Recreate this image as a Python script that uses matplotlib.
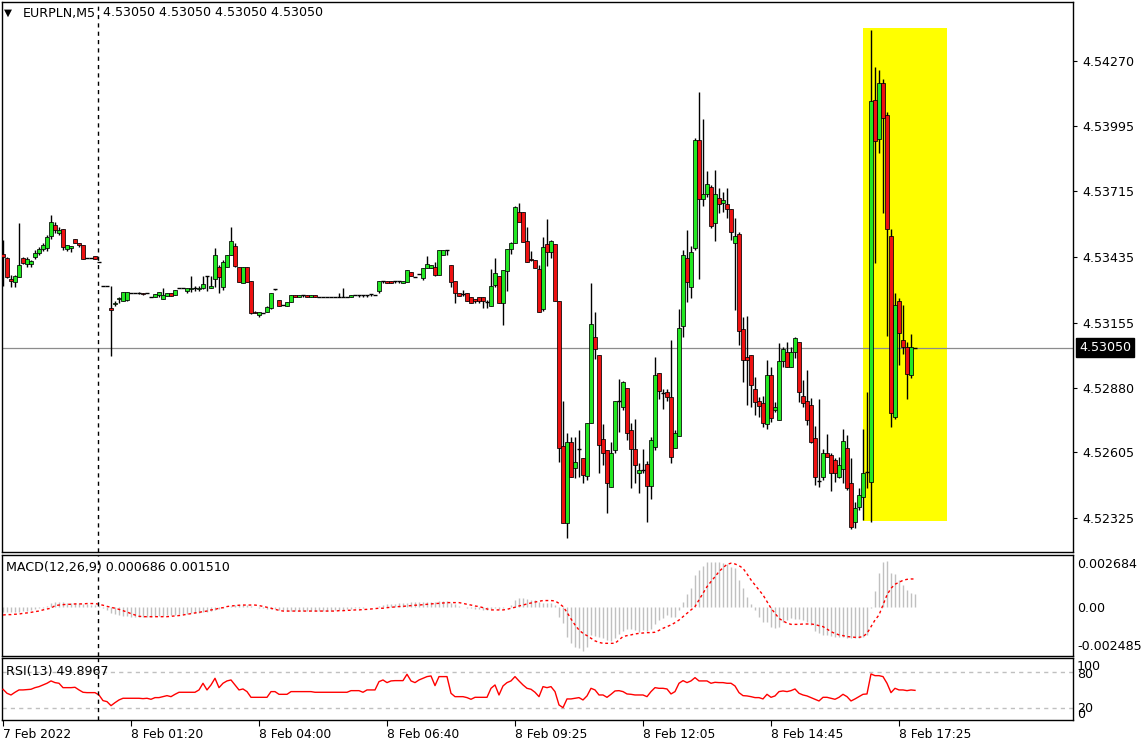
import numpy as np
import matplotlib
matplotlib.use("Agg")
import matplotlib.pyplot as plt
from matplotlib.patches import Rectangle
from matplotlib.transforms import blended_transform_factory

plt.rcParams['font.family'] = ['DejaVu Sans']

# ---------------- data ----------------
symbol = "EURPLN,M5"
header_ohlc = "4.53050 4.53050 4.53050 4.53050"

opens = [
    4.53449, 4.53432, 4.53342, 4.53329, 4.53351, 4.53432, 4.53406, 4.53406, 4.53436, 4.53453,
    4.53470, 4.53474, 4.53525, 4.53572, 4.53538, 4.53555, 4.53470, 4.53474, 4.53512, 4.53495,
    4.53487, 4.53432, 4.53432, 4.53440, 4.53415, 4.53312, 4.53312, 4.53219, 4.53236, 4.53257,
    4.53249, 4.53253, 4.53283, 4.53283, 4.53283, 4.53283, 4.53283, 4.53266, 4.53266, 4.53274,
    4.53257, 4.53270, 4.53283, 4.53274, 4.53304, 4.53304, 4.53291, 4.53300, 4.53304, 4.53300,
    4.53304, 4.53355, 4.53304, 4.53342, 4.53393, 4.53308, 4.53393, 4.53444, 4.53483, 4.53393,
    4.53325, 4.53393, 4.53334, 4.53202, 4.53189, 4.53197, 4.53202, 4.53219, 4.53300, 4.53253,
    4.53232, 4.53227, 4.53244, 4.53274, 4.53266, 4.53274, 4.53274, 4.53266, 4.53274, 4.53266,
    4.53266, 4.53266, 4.53266, 4.53266, 4.53266, 4.53266, 4.53266, 4.53266, 4.53274, 4.53274,
    4.53274, 4.53274, 4.53278, 4.53274, 4.53291, 4.53334, 4.53334, 4.53334, 4.53334, 4.53334,
    4.53325, 4.53329, 4.53372, 4.53351, 4.53363, 4.53346, 4.53389, 4.53389, 4.53393, 4.53359,
    4.53444, 4.53466, 4.53402, 4.53334, 4.53283, 4.53278, 4.53283, 4.53266, 4.53257, 4.53266,
    4.53266, 4.53244, 4.53227, 4.53317, 4.53355, 4.53240, 4.53376, 4.53470, 4.53495, 4.53627,
    4.53627, 4.53504, 4.53427, 4.53423, 4.53385, 4.53214, 4.53491, 4.53457, 4.53491, 4.53249,
    4.52632, 4.52304, 4.52649, 4.52538, 4.52619, 4.52580, 4.52504, 4.52730, 4.53095, 4.53019,
    4.52662, 4.52615, 4.52457, 4.52615, 4.52823, 4.52798, 4.52879, 4.52700, 4.52619, 4.52517,
    4.52529, 4.52555, 4.52461, 4.52627, 4.52942, 4.52857, 4.52862, 4.52840, 4.52623, 4.52674,
    4.53142, 4.53432, 4.53308, 4.53474, 4.53934, 4.53683, 4.53704, 4.53734, 4.53581, 4.53687,
    4.53666, 4.53661, 4.53640, 4.53495, 4.53534, 4.53129, 4.53010, 4.53019, 4.52874, 4.52823,
    4.52815, 4.52725, 4.52934, 4.52785, 4.52742, 4.52993, 4.53032, 4.52968, 4.53032, 4.53074,
    4.52845, 4.52823, 4.52806, 4.52666, 4.52483, 4.52500, 4.52602, 4.52593, 4.52572, 4.52500,
    4.52534, 4.52623, 4.52474, 4.52308, 4.52372, 4.52415, 4.52521, 4.52478, 4.54104, 4.53938,
    4.54176, 4.54040, 4.53525, 4.52755, 4.53249, 4.53083, 4.53053, 4.52934, 4.53050,
]

highs = [
    4.53508, 4.53436, 4.53359, 4.53359, 4.53581, 4.53436, 4.53436, 4.53423, 4.53466, 4.53478,
    4.53495, 4.53529, 4.53615, 4.53585, 4.53563, 4.53555, 4.53487, 4.53483, 4.53512, 4.53495,
    4.53487, 4.53432, 4.53432, 4.53440, 4.53415, 4.53312, 4.53312, 4.53312, 4.53249, 4.53266,
    4.53287, 4.53287, 4.53283, 4.53283, 4.53287, 4.53283, 4.53283, 4.53266, 4.53278, 4.53287,
    4.53304, 4.53283, 4.53283, 4.53295, 4.53304, 4.53304, 4.53304, 4.53355, 4.53312, 4.53312,
    4.53355, 4.53355, 4.53355, 4.53474, 4.53402, 4.53423, 4.53444, 4.53563, 4.53495, 4.53393,
    4.53393, 4.53393, 4.53334, 4.53206, 4.53202, 4.53197, 4.53227, 4.53283, 4.53300, 4.53253,
    4.53232, 4.53244, 4.53274, 4.53274, 4.53274, 4.53274, 4.53274, 4.53274, 4.53274, 4.53266,
    4.53266, 4.53266, 4.53266, 4.53266, 4.53283, 4.53304, 4.53266, 4.53274, 4.53274, 4.53274,
    4.53274, 4.53274, 4.53278, 4.53274, 4.53334, 4.53334, 4.53334, 4.53334, 4.53334, 4.53334,
    4.53334, 4.53380, 4.53372, 4.53351, 4.53363, 4.53389, 4.53440, 4.53402, 4.53415, 4.53466,
    4.53466, 4.53466, 4.53402, 4.53334, 4.53283, 4.53295, 4.53283, 4.53266, 4.53257, 4.53266,
    4.53266, 4.53253, 4.53385, 4.53432, 4.53355, 4.53380, 4.53470, 4.53500, 4.53653, 4.53666,
    4.53627, 4.53563, 4.53461, 4.53423, 4.53402, 4.53521, 4.53598, 4.53508, 4.53491, 4.53249,
    4.52823, 4.52687, 4.52670, 4.52670, 4.52700, 4.52580, 4.52730, 4.53325, 4.53202, 4.53019,
    4.52725, 4.52615, 4.52649, 4.52823, 4.52917, 4.52908, 4.52879, 4.52730, 4.52747, 4.52559,
    4.52619, 4.52568, 4.52670, 4.53010, 4.52942, 4.52874, 4.52874, 4.53083, 4.52700, 4.53214,
    4.53466, 4.53551, 4.53483, 4.53942, 4.54138, 4.54023, 4.53802, 4.53742, 4.53806, 4.53729,
    4.53712, 4.53729, 4.53640, 4.53602, 4.53542, 4.53180, 4.53185, 4.53019, 4.52925, 4.52840,
    4.52845, 4.52998, 4.52968, 4.52819, 4.53070, 4.53053, 4.53074, 4.53053, 4.53095, 4.53074,
    4.52913, 4.52955, 4.52836, 4.52717, 4.52832, 4.52619, 4.52683, 4.52602, 4.52580, 4.52585,
    4.52704, 4.52678, 4.52580, 4.52393, 4.52453, 4.52704, 4.52862, 4.54402, 4.54244, 4.54232,
    4.54193, 4.54053, 4.53555, 4.53283, 4.53261, 4.53232, 4.53074, 4.53108, 4.53050,
]

lows = [
    4.53312, 4.53346, 4.53308, 4.53308, 4.53351, 4.53406, 4.53393, 4.53393, 4.53427, 4.53444,
    4.53461, 4.53461, 4.53512, 4.53538, 4.53529, 4.53466, 4.53461, 4.53457, 4.53495, 4.53478,
    4.53427, 4.53432, 4.53432, 4.53427, 4.53415, 4.53312, 4.53312, 4.53015, 4.53227, 4.53240,
    4.53249, 4.53249, 4.53283, 4.53283, 4.53278, 4.53274, 4.53283, 4.53266, 4.53266, 4.53266,
    4.53257, 4.53270, 4.53270, 4.53274, 4.53304, 4.53304, 4.53283, 4.53287, 4.53291, 4.53291,
    4.53300, 4.53291, 4.53304, 4.53308, 4.53283, 4.53295, 4.53393, 4.53444, 4.53393, 4.53329,
    4.53325, 4.53329, 4.53193, 4.53197, 4.53180, 4.53197, 4.53202, 4.53214, 4.53295, 4.53227,
    4.53232, 4.53227, 4.53244, 4.53266, 4.53266, 4.53266, 4.53266, 4.53266, 4.53266, 4.53266,
    4.53266, 4.53266, 4.53266, 4.53266, 4.53266, 4.53266, 4.53266, 4.53266, 4.53274, 4.53266,
    4.53266, 4.53266, 4.53270, 4.53274, 4.53283, 4.53325, 4.53325, 4.53325, 4.53325, 4.53325,
    4.53325, 4.53329, 4.53355, 4.53351, 4.53363, 4.53338, 4.53389, 4.53389, 4.53355, 4.53359,
    4.53444, 4.53444, 4.53308, 4.53240, 4.53270, 4.53270, 4.53249, 4.53240, 4.53240, 4.53240,
    4.53219, 4.53219, 4.53227, 4.53308, 4.53240, 4.53146, 4.53291, 4.53449, 4.53495, 4.53585,
    4.53500, 4.53415, 4.53419, 4.53389, 4.53202, 4.53206, 4.53397, 4.53432, 4.53249, 4.52563,
    4.52304, 4.52240, 4.52500, 4.52495, 4.52500, 4.52474, 4.52487, 4.52730, 4.53002, 4.52517,
    4.52551, 4.52346, 4.52457, 4.52602, 4.52691, 4.52785, 4.52657, 4.52453, 4.52474, 4.52432,
    4.52517, 4.52308, 4.52406, 4.52615, 4.52832, 4.52789, 4.52823, 4.52559, 4.52623, 4.52674,
    4.53095, 4.53244, 4.53261, 4.53466, 4.53342, 4.53653, 4.53691, 4.53559, 4.53504, 4.53623,
    4.53627, 4.53602, 4.53508, 4.53210, 4.53061, 4.52904, 4.52806, 4.52798, 4.52764, 4.52755,
    4.52713, 4.52704, 4.52734, 4.52776, 4.52742, 4.52968, 4.52968, 4.52968, 4.53006, 4.52819,
    4.52798, 4.52721, 4.52644, 4.52466, 4.52457, 4.52487, 4.52585, 4.52440, 4.52478, 4.52495,
    4.52474, 4.52444, 4.52278, 4.52283, 4.52359, 4.52317, 4.52453, 4.52308, 4.53410, 4.53878,
    4.53623, 4.53100, 4.52713, 4.52747, 4.52976, 4.53023, 4.52832, 4.52921, 4.53050,
]

closes = [
    4.53436, 4.53351, 4.53334, 4.53355, 4.53402, 4.53410, 4.53427, 4.53419, 4.53453, 4.53470,
    4.53487, 4.53521, 4.53585, 4.53551, 4.53551, 4.53478, 4.53487, 4.53483, 4.53495, 4.53487,
    4.53427, 4.53432, 4.53432, 4.53427, 4.53415, 4.53312, 4.53312, 4.53210, 4.53240, 4.53261,
    4.53287, 4.53287, 4.53283, 4.53283, 4.53283, 4.53278, 4.53283, 4.53266, 4.53278, 4.53287,
    4.53274, 4.53283, 4.53270, 4.53295, 4.53304, 4.53304, 4.53304, 4.53304, 4.53304, 4.53304,
    4.53321, 4.53355, 4.53312, 4.53444, 4.53351, 4.53415, 4.53444, 4.53504, 4.53397, 4.53329,
    4.53393, 4.53329, 4.53197, 4.53197, 4.53202, 4.53197, 4.53223, 4.53283, 4.53300, 4.53227,
    4.53232, 4.53244, 4.53274, 4.53266, 4.53274, 4.53274, 4.53266, 4.53274, 4.53266, 4.53266,
    4.53266, 4.53266, 4.53266, 4.53266, 4.53266, 4.53266, 4.53266, 4.53274, 4.53274, 4.53274,
    4.53274, 4.53274, 4.53278, 4.53274, 4.53334, 4.53334, 4.53325, 4.53325, 4.53334, 4.53334,
    4.53334, 4.53380, 4.53355, 4.53351, 4.53363, 4.53389, 4.53406, 4.53402, 4.53359, 4.53466,
    4.53466, 4.53466, 4.53329, 4.53283, 4.53270, 4.53278, 4.53249, 4.53240, 4.53249, 4.53249,
    4.53249, 4.53244, 4.53312, 4.53368, 4.53240, 4.53380, 4.53470, 4.53495, 4.53649, 4.53585,
    4.53500, 4.53415, 4.53423, 4.53389, 4.53202, 4.53478, 4.53457, 4.53504, 4.53249, 4.52623,
    4.52304, 4.52649, 4.52500, 4.52563, 4.52619, 4.52508, 4.52730, 4.53151, 4.53044, 4.52636,
    4.52602, 4.52474, 4.52602, 4.52823, 4.52823, 4.52904, 4.52687, 4.52619, 4.52551, 4.52529,
    4.52529, 4.52461, 4.52657, 4.52934, 4.52866, 4.52857, 4.52840, 4.52585, 4.52687, 4.53134,
    4.53444, 4.53329, 4.53457, 4.53934, 4.53683, 4.53704, 4.53746, 4.53568, 4.53704, 4.53661,
    4.53678, 4.53640, 4.53542, 4.53525, 4.53121, 4.52998, 4.52998, 4.52891, 4.52819, 4.52802,
    4.52730, 4.52934, 4.52751, 4.52798, 4.52993, 4.53044, 4.52968, 4.53032, 4.53091, 4.52862,
    4.52815, 4.52742, 4.52649, 4.52500, 4.52483, 4.52602, 4.52585, 4.52517, 4.52517, 4.52551,
    4.52653, 4.52453, 4.52287, 4.52368, 4.52423, 4.52517, 4.52521, 4.54100, 4.53930, 4.54176,
    4.54027, 4.53555, 4.52772, 4.53232, 4.53112, 4.53053, 4.52938, 4.53053, 4.53050,
]

macd_hist = [
    -0.00023, -0.00025, -0.00027, -0.00027, -0.00023, -0.00020, -0.00018, -0.00014, -0.00011, -0.00005, -0.00002,
    0.00009, 0.00021, 0.00027, 0.00028, 0.00027, 0.00025, 0.00023, 0.00023, 0.00021, 0.00020, 0.00016, 0.00012, 0.00011, 0.00007,
    -0.00005, -0.00016, -0.00028, -0.00037, -0.00043, -0.00046, -0.00048, -0.00050, -0.00050, -0.00050,
    -0.00050, -0.00050, -0.00050, -0.00048, -0.00046, -0.00044, -0.00043, -0.00041, -0.00039, -0.00037,
    -0.00036, -0.00034, -0.00032, -0.00030, -0.00028, -0.00027, -0.00023, -0.00021, -0.00014, -0.00011, -0.00005, 0.0,
    0.00009, 0.00012, 0.00012, 0.00012, 0.00012, 0.00007, 0.00002, -0.00002, -0.00005, -0.00009,
    -0.00011, -0.00011, -0.00014, -0.00016, -0.00018, -0.00018, -0.00018, -0.00018, -0.00018, -0.00020,
    -0.00020, -0.00020, -0.00020, -0.00020, -0.00018, -0.00018, -0.00016, -0.00014, -0.00012, -0.00011,
    -0.00009, -0.00005, -0.00004, -0.00002, 0.0, 0.00002, 0.00004,
    0.00009, 0.00012, 0.00016, 0.00018, 0.00020, 0.00021, 0.00021, 0.00025, 0.00027, 0.00027,
    0.00027, 0.00028, 0.00030, 0.00030, 0.00030, 0.00034, 0.00034, 0.00034, 0.00025, 0.00016,
    0.00009, 0.00004, -0.00002, -0.00005, -0.00009, -0.00011, -0.00014, -0.00016, -0.00009, -0.00005,
    -0.00009, -0.00005, 0.0, 0.00012,
    0.00039, 0.00052, 0.00052, 0.00044, 0.00039, 0.00039, 0.00030, 0.00021, 0.00021, 0.00021, 0.00012,
    -0.00050, -0.00085, -0.00156, -0.00192, -0.00210, -0.00215, -0.00231, -0.00210,
    -0.00147, -0.00153, -0.00156, -0.00162, -0.00174, -0.00179, -0.00165, -0.00144, -0.00126, -0.00116, -0.00116,
    -0.00121, -0.00133, -0.00121, -0.00126, -0.00116, -0.00091, -0.00068, -0.00055, -0.00041, -0.00050, -0.00050,
    -0.00014, 0.00030, 0.00069, 0.00105, 0.00172, 0.00199, 0.00220, 0.00243, 0.00243, 0.00243,
    0.00243, 0.00235, 0.00229, 0.00217, 0.00211, 0.00146, 0.00101, 0.00057, 0.00016,
    -0.00014, -0.00050, -0.00076, -0.00076, -0.00103, -0.00112, -0.00103, -0.00076, -0.00068, -0.00059,
    -0.00062, -0.00062, -0.00068, -0.00076, -0.00094, -0.00126, -0.00139, -0.00147, -0.00147, -0.00153,
    -0.00156, -0.00156, -0.00156, -0.00165, -0.00165, -0.00165, -0.00162, -0.00156, -0.00147,
    -0.00005, 0.00087, 0.00181, 0.00243, 0.00247, 0.00181, 0.00176, 0.00146, 0.00119, 0.00092, 0.00075, 0.000686,
]

macd_signal = [
    -0.00041, -0.00039, -0.00039, -0.00037, -0.00036, -0.00032, -0.00030, -0.00027, -0.00023, -0.00020, -0.00014, -0.00009, -0.00005,
    0.00009, 0.00012, 0.00014, 0.00016, 0.00016, 0.00018, 0.00018, 0.00018, 0.00020, 0.00020, 0.00020,
    0.00016, 0.00011, 0.00005, 0.0, -0.00005, -0.00011, -0.00018, -0.00025, -0.00034, -0.00041, -0.00048,
    -0.00050, -0.00050, -0.00050, -0.00050, -0.00050, -0.00050, -0.00050,
    -0.00048, -0.00046, -0.00044, -0.00041, -0.00037, -0.00034, -0.00030, -0.00027, -0.00023, -0.00020, -0.00014,
    -0.00011, -0.00005, -0.00002, 0.00004, 0.00007, 0.00009, 0.00011, 0.00012, 0.00012, 0.00012, 0.00012,
    0.00009, 0.00005, 0.0, -0.00005, -0.00011, -0.00016, -0.00020,
    -0.00020, -0.00020, -0.00020, -0.00020, -0.00020, -0.00020, -0.00020, -0.00020, -0.00020, -0.00020, -0.00020, -0.00020, -0.00020,
    -0.00018, -0.00018, -0.00016, -0.00016, -0.00014, -0.00014, -0.00012, -0.00011, -0.00009, -0.00007,
    -0.00005, -0.00005, -0.00002, 0.0, 0.00002, 0.00004, 0.00005, 0.00007, 0.00009, 0.00011,
    0.00012, 0.00014, 0.00016, 0.00018, 0.00020, 0.00021, 0.00023, 0.00025, 0.00025, 0.00025, 0.00025,
    0.00021, 0.00016, 0.00012, 0.00007, 0.00004, -0.00002, -0.00009, -0.00014, -0.00014, -0.00014, -0.00014, -0.00011,
    -0.00005, 0.0, 0.00007, 0.00012, 0.00018, 0.00023, 0.00028, 0.00032, 0.00036, 0.00036, 0.00036, 0.00034,
    0.00021, 0.00004, -0.00027, -0.00062, -0.00094, -0.00121, -0.00139, -0.00151, -0.00165, -0.00179, -0.00187, -0.00192, -0.00192, -0.00192, -0.00192,
    -0.00174, -0.00156, -0.00151, -0.00147, -0.00142, -0.00139, -0.00137, -0.00135, -0.00135, -0.00133, -0.00123, -0.00112, -0.00103, -0.00094, -0.00082,
    -0.00068, -0.00050, -0.00032, -0.00014, 0.00004, 0.00039, 0.00075, 0.00110, 0.00137, 0.00163, 0.00190, 0.00211, 0.00229, 0.00235, 0.00231,
    0.00222, 0.00208, 0.00178, 0.00146, 0.00119, 0.00092, 0.00066, 0.00030, -0.00005, -0.00032, -0.00059, -0.00073, -0.00084, -0.00091, -0.00091,
    -0.00091, -0.00089, -0.00089, -0.00089, -0.00092, -0.00098, -0.00103, -0.00116, -0.00130, -0.00139, -0.00147, -0.00151, -0.00156, -0.00158, -0.00160,
    -0.00160, -0.00156, -0.00139, -0.00103, -0.00068, -0.00041, 0.00012, 0.00066, 0.00101, 0.00123, 0.00133, 0.00144, 0.00149, 0.00151, 0.001510,
]

rsi = [
    51.7, 45.0, 42.2, 46.7, 50.6, 50.6, 51.1, 51.7, 54.4, 56.1,
    58.9, 61.7, 65.6, 62.8, 61.7, 54.4, 54.4, 54.4, 55.0, 50.6,
    46.7, 46.1, 46.1, 46.1, 42.2,
    32.8, 31.1, 24.4, 29.4, 33.9, 36.7, 36.7, 36.7, 36.7, 36.7,
    36.1, 36.7, 35.0, 37.8, 37.8, 39.4, 41.1, 39.4, 43.3, 46.7,
    46.7, 46.7, 46.7, 46.7, 50.6,
    61.7, 50.6, 58.9, 70.0, 54.4, 61.7, 65.6, 67.2, 58.9, 50.6,
    52.2, 47.8, 38.3, 38.3, 38.3, 38.3, 38.3, 47.8, 47.8, 43.3,
    43.3, 43.3, 47.8, 47.8, 47.8, 47.8, 47.8, 47.8, 46.7,
    46.7, 46.7, 46.7, 46.7, 46.7, 46.7, 46.7, 46.7, 49.4, 49.4, 49.4, 46.7, 50.6, 50.6, 50.6,
    64.4, 67.2, 62.8, 65.6, 66.1, 66.1, 66.1, 76.7, 65.6, 62.8,
    67.2, 70.0, 72.8, 73.9, 57.8, 72.8, 72.8, 72.8, 45.0, 39.4,
    39.4, 39.4, 37.8, 35.0, 38.3, 38.3, 38.3, 38.3, 53.3, 58.9,
    42.2, 57.2, 62.8, 65.6,
    72.8, 65.6, 58.9, 53.3, 51.7, 46.7, 39.4, 56.1, 54.4, 56.1,
    47.8, 25.6, 21.1, 35.6, 35.6, 36.7, 37.8, 33.9, 40.6, 53.3,
    50.6, 42.2, 42.2, 38.3, 43.3, 48.9, 49.4, 47.8, 43.9, 43.3,
    42.2, 42.2, 42.2, 39.4, 47.8, 54.4, 53.3, 53.3, 52.2, 43.9,
    47.8, 61.7, 66.1, 62.8, 65.6, 71.1, 65.6, 65.6, 65.6, 61.7,
    63.3, 62.8, 62.8, 61.7, 61.7, 57.2, 46.1, 41.1, 40.6, 39.4,
    37.8, 37.8, 35.6, 43.3, 38.3, 40.6, 47.8, 48.9, 47.8, 49.4,
    52.2, 45.0, 42.2, 40.6, 37.8, 35.0, 32.2, 38.3, 38.3, 36.7,
    35.0, 38.3, 43.3, 39.4, 32.2, 35.6, 39.4, 43.3, 43.9, 77.2,
    74.4, 74.4, 72.8, 61.7, 46.1, 53.3, 50.6, 50.6, 49.4, 50.6,
    49.8967,
]

time_tick_bars = [0, 32, 64, 96, 128, 160, 192, 224]
time_tick_labels = ["7 Feb 2022", "8 Feb 01:20", "8 Feb 04:00", "8 Feb 06:40",
                    "8 Feb 09:25", "8 Feb 12:05", "8 Feb 14:45", "8 Feb 17:25"]
price_ticks = [4.54270, 4.53995, 4.53715, 4.53435, 4.53155, 4.52880, 4.52605, 4.52325]
bid_price = 4.53050
highlight_bars = (215.0, 236.0)
highlight_prices = (4.52312, 4.54411)
separator_bar = 23.75
rsi_levels = [80, 20]
macd_scale_labels = ["0.002684", "0.00", "-0.002485"]
rsi_scale_labels = ["100", "80", "20", "0"]
macd_title = "MACD(12,26,9) 0.000686 0.001510"
rsi_title = "RSI(13) 49.8967"

# ---------------- layout ----------------
W, H = 1145, 748
fig = plt.figure(figsize=(W / 100, H / 100), dpi=100)
fig.patch.set_facecolor("white")

FS = 9.1


def rect(x0, y0, x1, y1):
    return [x0 / W, 1 - y1 / H, (x1 - x0) / W, (y1 - y0) / H]


ax = fig.add_axes(rect(2, 1.5, 1073, 552))
axm = fig.add_axes(rect(2, 555, 1073, 656))
axr = fig.add_axes(rect(2, 658, 1073, 720))

XLIM = (-0.25, 267.5)
for a in (ax, axm, axr):
    a.set_xlim(*XLIM)
    a.set_facecolor("white")
    for s in a.spines.values():
        s.set_color("black")
        s.set_linewidth(1.0)
    a.tick_params(axis="x", bottom=False, labelbottom=False)
    a.tick_params(axis="y", left=False, labelleft=False, right=False, labelright=False)

ax.set_ylim(4.52180, 4.54524)
axm.set_ylim(-0.002596, 0.002788)
axr.set_ylim(0.5, 103.8)

GREEN = "#22e822"
RED = "#ee1111"

o = np.array(opens)
h = np.array(highs)
l = np.array(lows)
c = np.array(closes)
x = np.arange(len(o))

# highlight rectangle
ax.add_patch(Rectangle((highlight_bars[0], highlight_prices[0]),
                       highlight_bars[1] - highlight_bars[0],
                       highlight_prices[1] - highlight_prices[0],
                       facecolor="#ffff00", edgecolor="none", zorder=1))

# bid line
ax.axhline(bid_price, color="#8c8c8c", lw=0.9, zorder=2)

# candles
ax.vlines(x, l, h, color="black", lw=1.0, zorder=3)
up = c > o
dn = c < o
fl = c == o
ax.bar(x[up], (c - o)[up], bottom=o[up], width=0.8, color=GREEN,
       edgecolor="black", linewidth=0.55, zorder=4)
ax.bar(x[dn], (o - c)[dn], bottom=c[dn], width=0.8, color=RED,
       edgecolor="black", linewidth=0.55, zorder=4)
ax.hlines(o[fl], x[fl] - 0.45, x[fl] + 0.45, color="black", lw=1.0, zorder=4)

# price axis on right
ax.yaxis.tick_right()
ax.set_yticks(price_ticks)
ax.set_yticklabels([f"{p:.5f}" for p in price_ticks])
ax.tick_params(axis="y", right=True, labelright=True, direction="out",
               length=3, width=0.8, pad=3.5, labelsize=FS, colors="black")

trans_bid = blended_transform_factory(ax.transAxes, ax.transData)
ax.text(1.0055, bid_price, f"{bid_price:.5f}", transform=trans_bid, color="white",
        fontsize=FS, va="center", ha="left", clip_on=False, zorder=10,
        bbox=dict(boxstyle="square,pad=0.22", facecolor="black", edgecolor="black"))

# separator
for a in (ax, axm, axr):
    a.axvline(separator_bar, color="black", lw=1.0, ls=(0, (3, 3)), zorder=6)

# MACD
mh = np.array(macd_hist)
axm.vlines(x, 0, mh, color="#c0c0c0", lw=1.0, zorder=2)
axm.plot(x, macd_signal, color="red", lw=1.0, ls=(0, (2, 2)), zorder=3)

# RSI
for lv in rsi_levels:
    axr.axhline(lv, color="#c0c0c0", lw=1.0, ls=(0, (3, 3)), zorder=1)
axr.plot(x, rsi, color="red", lw=1.0, zorder=3)

# time axis
axr.set_xticks(time_tick_bars)
axr.set_xticklabels(time_tick_labels)
axr.tick_params(axis="x", bottom=True, labelbottom=True, direction="out",
                length=4, width=0.8, pad=2, labelsize=8.8, colors="black")
for t in axr.get_xticklabels():
    t.set_ha("left")


# text helpers in pixel coordinates
def ptext(px, py, s, **kw):
    fig.text(px / W, 1 - py / H, s, va="center", ha="left", **kw)


ptext(4, 13, "\u25BC", fontsize=7.5, color="black")
ptext(23, 13, symbol, fontsize=FS, color="black")
ptext(103, 13, header_ohlc, fontsize=FS, color="black")
ptext(6, 567, macd_title, fontsize=FS, color="black")
ptext(6, 671, rsi_title, fontsize=FS, color="black")

# MACD scale labels
for s, py in zip(macd_scale_labels, [565, 608, 646]):
    ptext(1077, py, s, fontsize=FS, color="black")
# RSI scale labels (overlapping pairs as in the terminal)
for s, py in zip(rsi_scale_labels, [667, 674, 708, 714]):
    ptext(1077, py, s, fontsize=FS, color="black")

fig.savefig("out.png", dpi=100, facecolor="white")
